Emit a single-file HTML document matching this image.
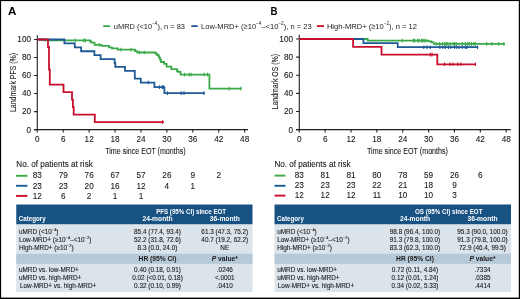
<!DOCTYPE html>
<html><head><meta charset="utf-8"><style>
html,body{margin:0;padding:0;background:#fff;}
svg{display:block;will-change:transform;}
</style></head><body>
<svg width="520" height="299" viewBox="0 0 520 299" font-family='"Liberation Sans", sans-serif'><rect x="0" y="0" width="520" height="299" fill="#fff"/><text x="7.9" y="14.7" font-size="11.6" font-weight="bold" textLength="8.4" lengthAdjust="spacingAndGlyphs" fill="#000">A</text><text x="270.6" y="14.7" font-size="11.6" font-weight="bold" textLength="7.0" lengthAdjust="spacingAndGlyphs" fill="#000">B</text><path d="M103.2,26.1H110.1" stroke="#3aaa48" stroke-width="1.8"/><path d="M191.3,26.1H197.7" stroke="#1d5a96" stroke-width="1.8"/><path d="M316.9,26.1H324" stroke="#c8102e" stroke-width="1.8"/><text x="113.8" y="28.7" font-size="7.8" textLength="71.2" lengthAdjust="spacingAndGlyphs" fill="#1a1a1a">uMRD (&lt;10<tspan font-size="4.8" dy="-3.6">−4</tspan><tspan dy="3.6">), n = 83</tspan></text><text x="201" y="28.7" font-size="7.8" textLength="110.6" lengthAdjust="spacingAndGlyphs" fill="#1a1a1a">Low-MRD+ (≥10<tspan font-size="4.8" dy="-3.6">−4</tspan><tspan dy="3.6">–&lt;10</tspan><tspan font-size="4.8" dy="-3.6">−2</tspan><tspan dy="3.6">), n = 23</tspan></text><text x="326.9" y="28.7" font-size="7.8" textLength="90.1" lengthAdjust="spacingAndGlyphs" fill="#1a1a1a">High-MRD+ (≥10<tspan font-size="4.8" dy="-3.6">−2</tspan><tspan dy="3.6">), n = 12</tspan></text><path d="M37.30,35.2V129.60M34.10,129.60H248" fill="none" stroke="#231f20" stroke-width="1.1"/><path d="M34.10,129.60H37.30M34.10,111.58H37.30M34.10,93.56H37.30M34.10,75.54H37.30M34.10,57.52H37.30M34.10,39.50H37.30M37.30,129.60V132.60M63.22,129.60V132.60M89.14,129.60V132.60M115.06,129.60V132.60M140.98,129.60V132.60M166.90,129.60V132.60M192.82,129.60V132.60M218.74,129.60V132.60M244.66,129.60V132.60" fill="none" stroke="#231f20" stroke-width="1.1"/><text x="31.00" y="132.50" font-size="8.2" text-anchor="end" fill="#1a1a1a" stroke="#1a1a1a" stroke-width="0.1">0</text><text x="31.00" y="114.48" font-size="8.2" text-anchor="end" fill="#1a1a1a" stroke="#1a1a1a" stroke-width="0.1">20</text><text x="31.00" y="96.46" font-size="8.2" text-anchor="end" fill="#1a1a1a" stroke="#1a1a1a" stroke-width="0.1">40</text><text x="31.00" y="78.44" font-size="8.2" text-anchor="end" fill="#1a1a1a" stroke="#1a1a1a" stroke-width="0.1">60</text><text x="31.00" y="60.42" font-size="8.2" text-anchor="end" fill="#1a1a1a" stroke="#1a1a1a" stroke-width="0.1">80</text><text x="31.00" y="42.40" font-size="8.2" text-anchor="end" fill="#1a1a1a" stroke="#1a1a1a" stroke-width="0.1">100</text><text x="37.30" y="141.8" font-size="8.2" text-anchor="middle" fill="#1a1a1a" stroke="#1a1a1a" stroke-width="0.1">0</text><text x="63.22" y="141.8" font-size="8.2" text-anchor="middle" fill="#1a1a1a" stroke="#1a1a1a" stroke-width="0.1">6</text><text x="89.14" y="141.8" font-size="8.2" text-anchor="middle" fill="#1a1a1a" stroke="#1a1a1a" stroke-width="0.1">12</text><text x="115.06" y="141.8" font-size="8.2" text-anchor="middle" fill="#1a1a1a" stroke="#1a1a1a" stroke-width="0.1">18</text><text x="140.98" y="141.8" font-size="8.2" text-anchor="middle" fill="#1a1a1a" stroke="#1a1a1a" stroke-width="0.1">24</text><text x="166.90" y="141.8" font-size="8.2" text-anchor="middle" fill="#1a1a1a" stroke="#1a1a1a" stroke-width="0.1">30</text><text x="192.82" y="141.8" font-size="8.2" text-anchor="middle" fill="#1a1a1a" stroke="#1a1a1a" stroke-width="0.1">36</text><text x="218.74" y="141.8" font-size="8.2" text-anchor="middle" fill="#1a1a1a" stroke="#1a1a1a" stroke-width="0.1">42</text><text x="244.66" y="141.8" font-size="8.2" text-anchor="middle" fill="#1a1a1a" stroke="#1a1a1a" stroke-width="0.1">48</text><text x="105.2" y="153.8" font-size="9.2" fill="#1a1a1a" stroke="#1a1a1a" stroke-width="0.1" textLength="80.4" lengthAdjust="spacingAndGlyphs">Time since EOT (months)</text><text transform="translate(15.6,112.0) rotate(-90)" x="0" y="0" font-size="9.6" fill="#1a1a1a" stroke="#1a1a1a" stroke-width="0.1" textLength="59.1" lengthAdjust="spacingAndGlyphs">Landmark PFS (%)</text><path d="M299.30,34.8V129.60M296.10,129.60H510.8" fill="none" stroke="#231f20" stroke-width="1.1"/><path d="M296.10,129.60H299.30M296.10,111.48H299.30M296.10,93.36H299.30M296.10,75.24H299.30M296.10,57.12H299.30M296.10,39.00H299.30M299.30,129.60V132.60M325.16,129.60V132.60M351.02,129.60V132.60M376.88,129.60V132.60M402.74,129.60V132.60M428.60,129.60V132.60M454.46,129.60V132.60M480.32,129.60V132.60M506.18,129.60V132.60" fill="none" stroke="#231f20" stroke-width="1.1"/><text x="293.00" y="132.50" font-size="8.2" text-anchor="end" fill="#1a1a1a" stroke="#1a1a1a" stroke-width="0.1">0</text><text x="293.00" y="114.38" font-size="8.2" text-anchor="end" fill="#1a1a1a" stroke="#1a1a1a" stroke-width="0.1">20</text><text x="293.00" y="96.26" font-size="8.2" text-anchor="end" fill="#1a1a1a" stroke="#1a1a1a" stroke-width="0.1">40</text><text x="293.00" y="78.14" font-size="8.2" text-anchor="end" fill="#1a1a1a" stroke="#1a1a1a" stroke-width="0.1">60</text><text x="293.00" y="60.02" font-size="8.2" text-anchor="end" fill="#1a1a1a" stroke="#1a1a1a" stroke-width="0.1">80</text><text x="293.00" y="41.90" font-size="8.2" text-anchor="end" fill="#1a1a1a" stroke="#1a1a1a" stroke-width="0.1">100</text><text x="299.30" y="141.8" font-size="8.2" text-anchor="middle" fill="#1a1a1a" stroke="#1a1a1a" stroke-width="0.1">0</text><text x="325.16" y="141.8" font-size="8.2" text-anchor="middle" fill="#1a1a1a" stroke="#1a1a1a" stroke-width="0.1">6</text><text x="351.02" y="141.8" font-size="8.2" text-anchor="middle" fill="#1a1a1a" stroke="#1a1a1a" stroke-width="0.1">12</text><text x="376.88" y="141.8" font-size="8.2" text-anchor="middle" fill="#1a1a1a" stroke="#1a1a1a" stroke-width="0.1">18</text><text x="402.74" y="141.8" font-size="8.2" text-anchor="middle" fill="#1a1a1a" stroke="#1a1a1a" stroke-width="0.1">24</text><text x="428.60" y="141.8" font-size="8.2" text-anchor="middle" fill="#1a1a1a" stroke="#1a1a1a" stroke-width="0.1">30</text><text x="454.46" y="141.8" font-size="8.2" text-anchor="middle" fill="#1a1a1a" stroke="#1a1a1a" stroke-width="0.1">36</text><text x="480.32" y="141.8" font-size="8.2" text-anchor="middle" fill="#1a1a1a" stroke="#1a1a1a" stroke-width="0.1">42</text><text x="506.18" y="141.8" font-size="8.2" text-anchor="middle" fill="#1a1a1a" stroke="#1a1a1a" stroke-width="0.1">48</text><text x="367.0" y="153.8" font-size="9.2" fill="#1a1a1a" stroke="#1a1a1a" stroke-width="0.1" textLength="81.0" lengthAdjust="spacingAndGlyphs">Time since EOT (months)</text><text transform="translate(278.2,109.4) rotate(-90)" x="0" y="0" font-size="9.6" fill="#1a1a1a" stroke="#1a1a1a" stroke-width="0.1" textLength="55.5" lengthAdjust="spacingAndGlyphs">Landmark OS (%)</text><path d="M37.30,39.50H43.50V40.40H90.30V41.50H91.20V42.60H94.60V44.90H101.60V45.90H109.00V47.40H111.90V48.40H117.70V49.60H135.00V51.10H137.30V52.50H155.50V53.60H157.00V55.00H158.60V56.60H159.40V58.20H160.20V60.00H161.00V62.00H164.20V63.80H166.60V66.60H171.30V69.10H177.10V71.00H177.80V71.80H180.60V74.60H209.40V88.60H241.40" fill="none" stroke="#3aaa48" stroke-width="1.8" stroke-linejoin="miter" stroke-linecap="butt"/><path d="M75.10,38.60v3.6M83.70,38.60v3.6M85.20,38.60v3.6M99.20,43.10v3.6M120.90,47.80v3.6M131.00,47.80v3.6M139.50,50.70v3.6M144.30,50.70v3.6M184.60,72.80v3.6M189.20,72.80v3.6M191.10,72.80v3.6M204.00,72.80v3.6M207.50,72.80v3.6M229.20,86.80v3.6M240.90,86.80v3.6" fill="none" stroke="#3aaa48" stroke-width="1.1"/><path d="M37.30,39.50H64.40V43.42H74.80V47.34H81.10V51.25H94.40V55.18H100.60V59.05H114.60V63.02H115.30V66.89H125.00V70.85H134.80V78.69H140.80V82.57H154.40V87.10H164.40V93.10H204.60" fill="none" stroke="#1d5a96" stroke-width="1.8" stroke-linejoin="miter" stroke-linecap="butt"/><path d="M148.30,80.77v3.6M159.50,85.30v3.6M162.10,85.30v3.6M163.30,85.30v3.6M167.50,91.30v3.6M181.10,91.30v3.6M184.00,91.30v3.6M204.00,91.30v3.6" fill="none" stroke="#1d5a96" stroke-width="1.1"/><path d="M37.30,39.50H48.00V46.98H49.00V69.50H49.80V84.55H63.50V92.03H72.00V99.60H72.90V107.07H73.70V114.55H94.80V122.12H163.80" fill="none" stroke="#c8102e" stroke-width="1.8" stroke-linejoin="miter" stroke-linecap="butt"/><path d="M162.60,120.32v3.6" fill="none" stroke="#c8102e" stroke-width="1.1"/><path d="M299.30,39.00H367.70V40.60H428.50V41.30H431.50V42.40H433.80V43.90H505.00" fill="none" stroke="#3aaa48" stroke-width="1.8" stroke-linejoin="miter" stroke-linecap="butt"/><path d="M402.30,38.80v3.6M413.50,38.80v3.6M414.60,38.80v3.6M417.70,38.80v3.6M419.20,38.80v3.6M421.50,38.80v3.6M422.80,38.80v3.6M424.30,38.80v3.6M426.20,38.80v3.6M436.20,42.10v3.6M439.20,42.10v3.6M442.30,42.10v3.6M444.60,42.10v3.6M446.20,42.10v3.6M447.70,42.10v3.6M450.00,42.10v3.6M453.10,42.10v3.6M454.60,42.10v3.6M456.20,42.10v3.6M462.30,42.10v3.6M465.40,42.10v3.6M467.70,42.10v3.6M469.20,42.10v3.6M471.50,42.10v3.6M473.80,42.10v3.6M475.40,42.10v3.6M486.60,42.10v3.6M491.80,42.10v3.6M498.70,42.10v3.6M503.80,42.10v3.6" fill="none" stroke="#3aaa48" stroke-width="1.1"/><path d="M299.30,39.00H363.40V43.20H397.70V47.20H478.10" fill="none" stroke="#1d5a96" stroke-width="1.8" stroke-linejoin="miter" stroke-linecap="butt"/><path d="M423.80,45.40v3.6M426.90,45.40v3.6M430.20,45.40v3.6M440.00,45.40v3.6M443.00,45.40v3.6M445.40,45.40v3.6M448.50,45.40v3.6M450.80,45.40v3.6M454.60,45.40v3.6M456.90,45.40v3.6M459.20,45.40v3.6M462.30,45.40v3.6M465.40,45.40v3.6M466.90,45.40v3.6M477.50,45.40v3.6" fill="none" stroke="#1d5a96" stroke-width="1.1"/><path d="M299.30,39.00H353.10V46.90H381.50V54.60H437.30V64.30H475.80" fill="none" stroke="#c8102e" stroke-width="1.8" stroke-linejoin="miter" stroke-linecap="butt"/><path d="M430.40,52.80v3.6M432.00,52.80v3.6M444.60,62.50v3.6M450.00,62.50v3.6M453.10,62.50v3.6M457.70,62.50v3.6M460.80,62.50v3.6M475.30,62.50v3.6" fill="none" stroke="#c8102e" stroke-width="1.1"/><text x="16.3" y="167.4" font-size="8.6" fill="#1a1a1a" stroke="#1a1a1a" stroke-width="0.1" textLength="76.5" lengthAdjust="spacingAndGlyphs">No. of patients at risk</text><path d="M16,175.8H27.4" stroke="#3aaa48" stroke-width="1.9"/><path d="M16,185.8H27.4" stroke="#1d5a96" stroke-width="1.9"/><path d="M16,195.9H27.4" stroke="#c8102e" stroke-width="1.9"/><text x="37.30" y="178.4" font-size="8.2" text-anchor="middle" fill="#1a1a1a" stroke="#1a1a1a" stroke-width="0.1">83</text><text x="63.22" y="178.4" font-size="8.2" text-anchor="middle" fill="#1a1a1a" stroke="#1a1a1a" stroke-width="0.1">79</text><text x="89.14" y="178.4" font-size="8.2" text-anchor="middle" fill="#1a1a1a" stroke="#1a1a1a" stroke-width="0.1">76</text><text x="115.06" y="178.4" font-size="8.2" text-anchor="middle" fill="#1a1a1a" stroke="#1a1a1a" stroke-width="0.1">67</text><text x="140.98" y="178.4" font-size="8.2" text-anchor="middle" fill="#1a1a1a" stroke="#1a1a1a" stroke-width="0.1">57</text><text x="166.90" y="178.4" font-size="8.2" text-anchor="middle" fill="#1a1a1a" stroke="#1a1a1a" stroke-width="0.1">26</text><text x="192.82" y="178.4" font-size="8.2" text-anchor="middle" fill="#1a1a1a" stroke="#1a1a1a" stroke-width="0.1">9</text><text x="218.74" y="178.4" font-size="8.2" text-anchor="middle" fill="#1a1a1a" stroke="#1a1a1a" stroke-width="0.1">2</text><text x="37.30" y="188.5" font-size="8.2" text-anchor="middle" fill="#1a1a1a" stroke="#1a1a1a" stroke-width="0.1">23</text><text x="63.22" y="188.5" font-size="8.2" text-anchor="middle" fill="#1a1a1a" stroke="#1a1a1a" stroke-width="0.1">23</text><text x="89.14" y="188.5" font-size="8.2" text-anchor="middle" fill="#1a1a1a" stroke="#1a1a1a" stroke-width="0.1">20</text><text x="115.06" y="188.5" font-size="8.2" text-anchor="middle" fill="#1a1a1a" stroke="#1a1a1a" stroke-width="0.1">16</text><text x="140.98" y="188.5" font-size="8.2" text-anchor="middle" fill="#1a1a1a" stroke="#1a1a1a" stroke-width="0.1">12</text><text x="166.90" y="188.5" font-size="8.2" text-anchor="middle" fill="#1a1a1a" stroke="#1a1a1a" stroke-width="0.1">4</text><text x="192.82" y="188.5" font-size="8.2" text-anchor="middle" fill="#1a1a1a" stroke="#1a1a1a" stroke-width="0.1">1</text><text x="37.30" y="198.5" font-size="8.2" text-anchor="middle" fill="#1a1a1a" stroke="#1a1a1a" stroke-width="0.1">12</text><text x="63.22" y="198.5" font-size="8.2" text-anchor="middle" fill="#1a1a1a" stroke="#1a1a1a" stroke-width="0.1">6</text><text x="89.14" y="198.5" font-size="8.2" text-anchor="middle" fill="#1a1a1a" stroke="#1a1a1a" stroke-width="0.1">2</text><text x="115.06" y="198.5" font-size="8.2" text-anchor="middle" fill="#1a1a1a" stroke="#1a1a1a" stroke-width="0.1">1</text><text x="140.98" y="198.5" font-size="8.2" text-anchor="middle" fill="#1a1a1a" stroke="#1a1a1a" stroke-width="0.1">1</text><text x="274.5" y="167.2" font-size="8.6" fill="#1a1a1a" stroke="#1a1a1a" stroke-width="0.1" textLength="76.0" lengthAdjust="spacingAndGlyphs">No. of patients at risk</text><path d="M274.5,175.6H285.5" stroke="#3aaa48" stroke-width="1.9"/><path d="M274.5,185.8H285.5" stroke="#1d5a96" stroke-width="1.9"/><path d="M274.5,195.6H285.5" stroke="#c8102e" stroke-width="1.9"/><text x="299.30" y="178.2" font-size="8.2" text-anchor="middle" fill="#1a1a1a" stroke="#1a1a1a" stroke-width="0.1">83</text><text x="325.16" y="178.2" font-size="8.2" text-anchor="middle" fill="#1a1a1a" stroke="#1a1a1a" stroke-width="0.1">81</text><text x="351.02" y="178.2" font-size="8.2" text-anchor="middle" fill="#1a1a1a" stroke="#1a1a1a" stroke-width="0.1">81</text><text x="376.88" y="178.2" font-size="8.2" text-anchor="middle" fill="#1a1a1a" stroke="#1a1a1a" stroke-width="0.1">80</text><text x="402.74" y="178.2" font-size="8.2" text-anchor="middle" fill="#1a1a1a" stroke="#1a1a1a" stroke-width="0.1">78</text><text x="428.60" y="178.2" font-size="8.2" text-anchor="middle" fill="#1a1a1a" stroke="#1a1a1a" stroke-width="0.1">59</text><text x="454.46" y="178.2" font-size="8.2" text-anchor="middle" fill="#1a1a1a" stroke="#1a1a1a" stroke-width="0.1">26</text><text x="480.32" y="178.2" font-size="8.2" text-anchor="middle" fill="#1a1a1a" stroke="#1a1a1a" stroke-width="0.1">6</text><text x="299.30" y="188.3" font-size="8.2" text-anchor="middle" fill="#1a1a1a" stroke="#1a1a1a" stroke-width="0.1">23</text><text x="325.16" y="188.3" font-size="8.2" text-anchor="middle" fill="#1a1a1a" stroke="#1a1a1a" stroke-width="0.1">23</text><text x="351.02" y="188.3" font-size="8.2" text-anchor="middle" fill="#1a1a1a" stroke="#1a1a1a" stroke-width="0.1">23</text><text x="376.88" y="188.3" font-size="8.2" text-anchor="middle" fill="#1a1a1a" stroke="#1a1a1a" stroke-width="0.1">22</text><text x="402.74" y="188.3" font-size="8.2" text-anchor="middle" fill="#1a1a1a" stroke="#1a1a1a" stroke-width="0.1">21</text><text x="428.60" y="188.3" font-size="8.2" text-anchor="middle" fill="#1a1a1a" stroke="#1a1a1a" stroke-width="0.1">18</text><text x="454.46" y="188.3" font-size="8.2" text-anchor="middle" fill="#1a1a1a" stroke="#1a1a1a" stroke-width="0.1">9</text><text x="299.30" y="198.2" font-size="8.2" text-anchor="middle" fill="#1a1a1a" stroke="#1a1a1a" stroke-width="0.1">12</text><text x="325.16" y="198.2" font-size="8.2" text-anchor="middle" fill="#1a1a1a" stroke="#1a1a1a" stroke-width="0.1">12</text><text x="351.02" y="198.2" font-size="8.2" text-anchor="middle" fill="#1a1a1a" stroke="#1a1a1a" stroke-width="0.1">12</text><text x="376.88" y="198.2" font-size="8.2" text-anchor="middle" fill="#1a1a1a" stroke="#1a1a1a" stroke-width="0.1">11</text><text x="402.74" y="198.2" font-size="8.2" text-anchor="middle" fill="#1a1a1a" stroke="#1a1a1a" stroke-width="0.1">10</text><text x="428.60" y="198.2" font-size="8.2" text-anchor="middle" fill="#1a1a1a" stroke="#1a1a1a" stroke-width="0.1">10</text><text x="454.46" y="198.2" font-size="8.2" text-anchor="middle" fill="#1a1a1a" stroke="#1a1a1a" stroke-width="0.1">3</text><rect x="16.25" y="204.5" width="236.25" height="20" fill="#175283"/><rect x="16.25" y="224.5" width="236.25" height="67.4" fill="#dbe3eb"/><rect x="16.25" y="253.8" width="236.25" height="10" fill="#b6c9d8"/><text x="18.85" y="220.7" font-size="6.7" font-weight="bold" textLength="26.8" lengthAdjust="spacingAndGlyphs" fill="#fff">Category</text><text x="191.15" y="213.8" font-size="6.7" text-anchor="middle" font-weight="bold" textLength="70.0" lengthAdjust="spacingAndGlyphs" fill="#fff">PFS (95% CI) since EOT</text><text x="157.5" y="220.6" font-size="6.7" text-anchor="middle" font-weight="bold" fill="#fff">24-month</text><text x="224.8" y="220.6" font-size="6.7" text-anchor="middle" font-weight="bold" fill="#fff">36-month</text><text x="18.95" y="233.9" font-size="6.4" fill="#1a1a1a" stroke="#1a1a1a" stroke-width="0.1">uMRD (&lt;10<tspan font-size="4.0" dy="-3.2">−4</tspan><tspan dy="3.2">)</tspan></text><text x="157.5" y="233.9" font-size="6.4" text-anchor="middle" fill="#1a1a1a" stroke="#1a1a1a" stroke-width="0.1">85.4 (77.4, 93.4)</text><text x="224.8" y="233.9" font-size="6.4" text-anchor="middle" fill="#1a1a1a" stroke="#1a1a1a" stroke-width="0.1">61.3 (47.3, 75.2)</text><text x="18.95" y="242.1" font-size="6.4" fill="#1a1a1a" stroke="#1a1a1a" stroke-width="0.1">Low-MRD+ (≥10<tspan font-size="4.0" dy="-3.2">−4</tspan><tspan dy="3.2">–&lt;10</tspan><tspan font-size="4.0" dy="-3.2">−2</tspan><tspan dy="3.2">)</tspan></text><text x="157.5" y="242.1" font-size="6.4" text-anchor="middle" fill="#1a1a1a" stroke="#1a1a1a" stroke-width="0.1">52.2 (31.8, 72.6)</text><text x="224.8" y="242.1" font-size="6.4" text-anchor="middle" fill="#1a1a1a" stroke="#1a1a1a" stroke-width="0.1">40.7 (19.2, 62.2)</text><text x="18.95" y="250.4" font-size="6.4" fill="#1a1a1a" stroke="#1a1a1a" stroke-width="0.1">High-MRD+ (≥10<tspan font-size="4.0" dy="-3.2">−2</tspan><tspan dy="3.2">)</tspan></text><text x="157.5" y="250.4" font-size="6.4" text-anchor="middle" fill="#1a1a1a" stroke="#1a1a1a" stroke-width="0.1">8.3 (0.0, 24.0)</text><text x="224.8" y="250.4" font-size="6.4" text-anchor="middle" fill="#1a1a1a" stroke="#1a1a1a" stroke-width="0.1">NE</text><text x="157.5" y="260.6" font-size="6.7" text-anchor="middle" font-weight="bold" fill="#1a1a1a">HR (95% CI)</text><text x="224.8" y="260.6" font-size="6.7" text-anchor="middle" font-weight="bold" fill="#1a1a1a"><tspan font-style="italic">P</tspan> value*</text><text x="18.95" y="271.9" font-size="6.4" fill="#1a1a1a" stroke="#1a1a1a" stroke-width="0.1">uMRD vs. low-MRD+</text><text x="157.5" y="271.9" font-size="6.4" text-anchor="middle" fill="#1a1a1a" stroke="#1a1a1a" stroke-width="0.1">0.40 (0.18, 0.91)</text><text x="224.8" y="271.9" font-size="6.4" text-anchor="middle" fill="#1a1a1a" stroke="#1a1a1a" stroke-width="0.1">.0246</text><text x="18.95" y="280.0" font-size="6.4" fill="#1a1a1a" stroke="#1a1a1a" stroke-width="0.1">uMRD vs. high-MRD+</text><text x="157.5" y="280.0" font-size="6.4" text-anchor="middle" fill="#1a1a1a" stroke="#1a1a1a" stroke-width="0.1">0.02 (&lt;0.01, 0.18)</text><text x="224.8" y="280.0" font-size="6.4" text-anchor="middle" fill="#1a1a1a" stroke="#1a1a1a" stroke-width="0.1">&lt;.0001</text><text x="19.95" y="288.0" font-size="6.4" fill="#1a1a1a" stroke="#1a1a1a" stroke-width="0.1">Low-MRD+ vs. high-MRD+</text><text x="157.5" y="288.0" font-size="6.4" text-anchor="middle" fill="#1a1a1a" stroke="#1a1a1a" stroke-width="0.1">0.32 (0.10, 0.99)</text><text x="224.8" y="288.0" font-size="6.4" text-anchor="middle" fill="#1a1a1a" stroke="#1a1a1a" stroke-width="0.1">.0410</text><rect x="274.5" y="204.5" width="236.5" height="20" fill="#175283"/><rect x="274.5" y="224.5" width="236.5" height="67.4" fill="#dbe3eb"/><rect x="274.5" y="253.8" width="236.5" height="10" fill="#b6c9d8"/><text x="277.1" y="220.7" font-size="6.7" font-weight="bold" textLength="26.8" lengthAdjust="spacingAndGlyphs" fill="#fff">Category</text><text x="448.75" y="213.8" font-size="6.7" text-anchor="middle" font-weight="bold" textLength="67.5" lengthAdjust="spacingAndGlyphs" fill="#fff">OS (95% CI) since EOT</text><text x="415.0" y="220.6" font-size="6.7" text-anchor="middle" font-weight="bold" fill="#fff">24-month</text><text x="482.5" y="220.6" font-size="6.7" text-anchor="middle" font-weight="bold" fill="#fff">36-month</text><text x="277.2" y="233.9" font-size="6.4" fill="#1a1a1a" stroke="#1a1a1a" stroke-width="0.1">uMRD (&lt;10<tspan font-size="4.0" dy="-3.2">−4</tspan><tspan dy="3.2">)</tspan></text><text x="415.0" y="233.9" font-size="6.4" text-anchor="middle" fill="#1a1a1a" stroke="#1a1a1a" stroke-width="0.1">98.8 (96.4, 100.0)</text><text x="482.5" y="233.9" font-size="6.4" text-anchor="middle" fill="#1a1a1a" stroke="#1a1a1a" stroke-width="0.1">95.3 (90.0, 100.0)</text><text x="277.2" y="242.1" font-size="6.4" fill="#1a1a1a" stroke="#1a1a1a" stroke-width="0.1">Low-MRD+ (≥10<tspan font-size="4.0" dy="-3.2">−4</tspan><tspan dy="3.2">–&lt;10</tspan><tspan font-size="4.0" dy="-3.2">−2</tspan><tspan dy="3.2">)</tspan></text><text x="415.0" y="242.1" font-size="6.4" text-anchor="middle" fill="#1a1a1a" stroke="#1a1a1a" stroke-width="0.1">91.3 (79.8, 100.0)</text><text x="482.5" y="242.1" font-size="6.4" text-anchor="middle" fill="#1a1a1a" stroke="#1a1a1a" stroke-width="0.1">91.3 (79.8, 100.0)</text><text x="277.2" y="250.4" font-size="6.4" fill="#1a1a1a" stroke="#1a1a1a" stroke-width="0.1">High-MRD+ (≥10<tspan font-size="4.0" dy="-3.2">−2</tspan><tspan dy="3.2">)</tspan></text><text x="415.0" y="250.4" font-size="6.4" text-anchor="middle" fill="#1a1a1a" stroke="#1a1a1a" stroke-width="0.1">83.3 (62.3, 100.0)</text><text x="482.5" y="250.4" font-size="6.4" text-anchor="middle" fill="#1a1a1a" stroke="#1a1a1a" stroke-width="0.1">72.9 (46.4, 99.5)</text><text x="415.0" y="260.6" font-size="6.7" text-anchor="middle" font-weight="bold" fill="#1a1a1a">HR (95% CI)</text><text x="482.5" y="260.6" font-size="6.7" text-anchor="middle" font-weight="bold" fill="#1a1a1a"><tspan font-style="italic">P</tspan> value*</text><text x="277.2" y="271.9" font-size="6.4" fill="#1a1a1a" stroke="#1a1a1a" stroke-width="0.1">uMRD vs. low-MRD+</text><text x="415.0" y="271.9" font-size="6.4" text-anchor="middle" fill="#1a1a1a" stroke="#1a1a1a" stroke-width="0.1">0.72 (0.11, 4.84)</text><text x="482.5" y="271.9" font-size="6.4" text-anchor="middle" fill="#1a1a1a" stroke="#1a1a1a" stroke-width="0.1">.7334</text><text x="277.2" y="280.0" font-size="6.4" fill="#1a1a1a" stroke="#1a1a1a" stroke-width="0.1">uMRD vs. high-MRD+</text><text x="415.0" y="280.0" font-size="6.4" text-anchor="middle" fill="#1a1a1a" stroke="#1a1a1a" stroke-width="0.1">0.12 (0.01, 1.24)</text><text x="482.5" y="280.0" font-size="6.4" text-anchor="middle" fill="#1a1a1a" stroke="#1a1a1a" stroke-width="0.1">.0385</text><text x="277.8" y="288.0" font-size="6.4" fill="#1a1a1a" stroke="#1a1a1a" stroke-width="0.1">Low-MRD+ vs. high-MRD+</text><text x="415.0" y="288.0" font-size="6.4" text-anchor="middle" fill="#1a1a1a" stroke="#1a1a1a" stroke-width="0.1">0.34 (0.02, 5.33)</text><text x="482.5" y="288.0" font-size="6.4" text-anchor="middle" fill="#1a1a1a" stroke="#1a1a1a" stroke-width="0.1">.4414</text><rect x="0" y="0" width="520" height="1.1" fill="#000"/><rect x="0" y="0" width="1.1" height="299" fill="#000"/><rect x="518.8" y="0" width="1.2" height="299" fill="#000"/><rect x="0" y="297.6" width="520" height="1.4" fill="#000"/></svg>
</body></html>
